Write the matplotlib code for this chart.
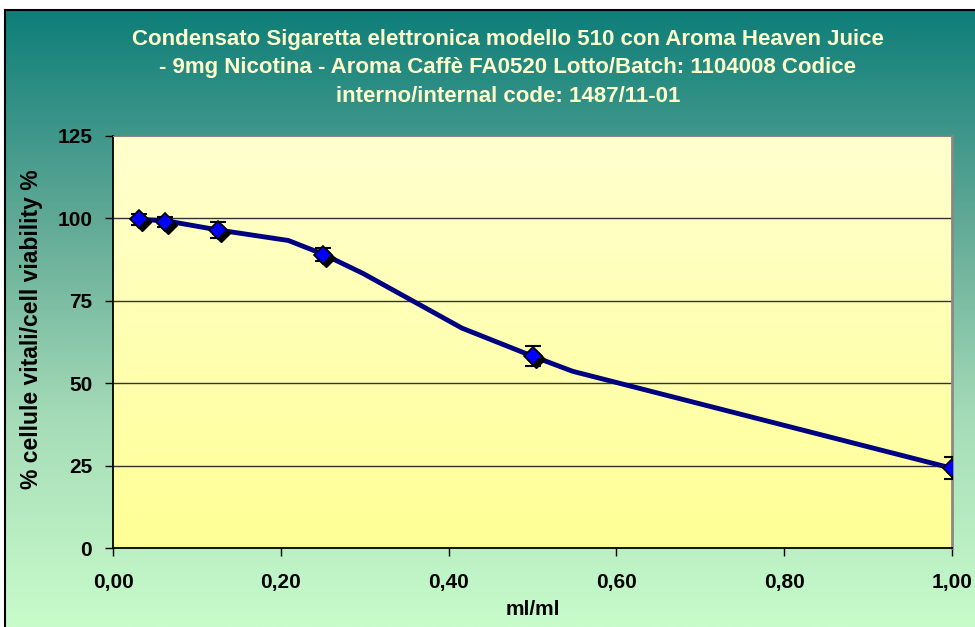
import numpy as np
import matplotlib
matplotlib.use("Agg")
import matplotlib.pyplot as plt
import matplotlib.transforms as mtransforms
from matplotlib.colors import LinearSegmentedColormap

plt.rcParams["font.family"] = ["Liberation Sans", "DejaVu Sans"]

TITLE = ("Condensato Sigaretta elettronica modello 510 con Aroma Heaven Juice\n"
         "- 9mg Nicotina - Aroma Caffè FA0520 Lotto/Batch: 1104008 Codice\n"
         "interno/internal code: 1487/11-01")

# measured points
dose = [0.03125, 0.0625, 0.125, 0.25, 0.5, 1.0]
viability = [99.7, 99.0, 96.4, 89.0, 58.2, 24.2]
err = [1.6, 1.5, 2.4, 2.0, 3.0, 3.3]

# smoothed curve as drawn in the chart
curve_x = [0.03125, 0.0625, 0.125, 0.209, 0.25, 0.298, 0.416, 0.5, 0.548, 1.0]
curve_y = [99.7, 99.3, 96.5, 93.3, 89.2, 83.3, 66.7, 58.2, 53.6, 24.2]

xticks = [0.0, 0.2, 0.4, 0.6, 0.8, 1.0]
xticklabels = ["0,00", "0,20", "0,40", "0,60", "0,80", "1,00"]
yticks = [0, 25, 50, 75, 100, 125]

W, H = 975, 627
fig = plt.figure(figsize=(W / 100, H / 100), dpi=100)
fig.patch.set_facecolor("white")

# chart area background (teal -> light green)
bg = fig.add_axes([5 / W, 0, 1 - 5 / W, 1 - 10 / H], zorder=-10)
bg_cmap = LinearSegmentedColormap.from_list(
    "bg", ["#0e7e79", "#5fa895", "#a6dcb8", "#c8fccb"])
bg.imshow(np.linspace(0, 1, 256).reshape(-1, 1), cmap=bg_cmap,
          aspect="auto", extent=[0, 1, 0, 1], origin="upper")
bg.set_xticks([])
bg.set_yticks([])
for side in ["right", "bottom"]:
    bg.spines[side].set_visible(False)
bg.spines["left"].set_color("black")
bg.spines["top"].set_color("black")
bg.spines["left"].set_linewidth(1.5)
bg.spines["top"].set_linewidth(1.5)

ax = fig.add_axes([113 / W, 1 - 548 / H, (952 - 113) / W, (548 - 136) / H])
pa_cmap = LinearSegmentedColormap.from_list("pa", ["#ffffcf", "#ffff96"])
ax.imshow(np.linspace(0, 1, 256).reshape(-1, 1), cmap=pa_cmap,
          aspect="auto", extent=[0, 1, 0, 125], origin="upper", zorder=0)

ax.set_xlim(0, 1)
ax.set_ylim(0, 125)
for y in yticks[1:-1]:
    ax.axhline(y, color="#333333", lw=1, zorder=1)

ax.plot(curve_x, curve_y, color="#000080", lw=3.5, solid_joinstyle="round",
        solid_capstyle="round", zorder=3)
ax.errorbar(dose, viability, yerr=err, fmt="none", ecolor="black",
            elinewidth=1.2, capsize=5.5, capthick=1.5, zorder=4)
shadow = ax.transData + mtransforms.ScaledTranslation(3 / 100, -3 / 100,
                                                      fig.dpi_scale_trans)
ax.plot(dose, viability, "D", color="black", markersize=9, transform=shadow,
        zorder=5)
ax.plot(dose, viability, "D", markerfacecolor="#0000ff",
        markeredgecolor="black", markeredgewidth=1.2, markersize=9, zorder=6)

ax.set_xticks(xticks)
ax.set_xticklabels(xticklabels)
ax.set_yticks(yticks)
ax.tick_params(direction="out", length=6, width=1, colors="black",
               labelsize=15)
ax.tick_params(axis="y", pad=9)
ax.tick_params(axis="x", pad=12)
for lab in ax.get_xticklabels() + ax.get_yticklabels():
    lab.set_fontweight("bold")

ax.spines["left"].set_color("black")
ax.spines["bottom"].set_color("black")
ax.spines["left"].set_linewidth(1.3)
ax.spines["bottom"].set_linewidth(1.3)
ax.spines["right"].set_color("#888888")
ax.spines["top"].set_color("#888888")
ax.spines["right"].set_linewidth(2)

ax.set_xlabel("ml/ml", fontsize=15, fontweight="bold", labelpad=6)
ax.set_ylabel("% cellule vitali/cell viability %", fontsize=16.5,
              fontweight="bold")
ax.yaxis.set_label_coords(-70 / (952 - 113), 0.53)

fig.text(508 / W, 1 - 68 / H, TITLE, ha="center", va="center",
         fontsize=16, fontweight="bold", color="#ffffcc", linespacing=1.5)

fig.savefig("out.png", dpi=100)
